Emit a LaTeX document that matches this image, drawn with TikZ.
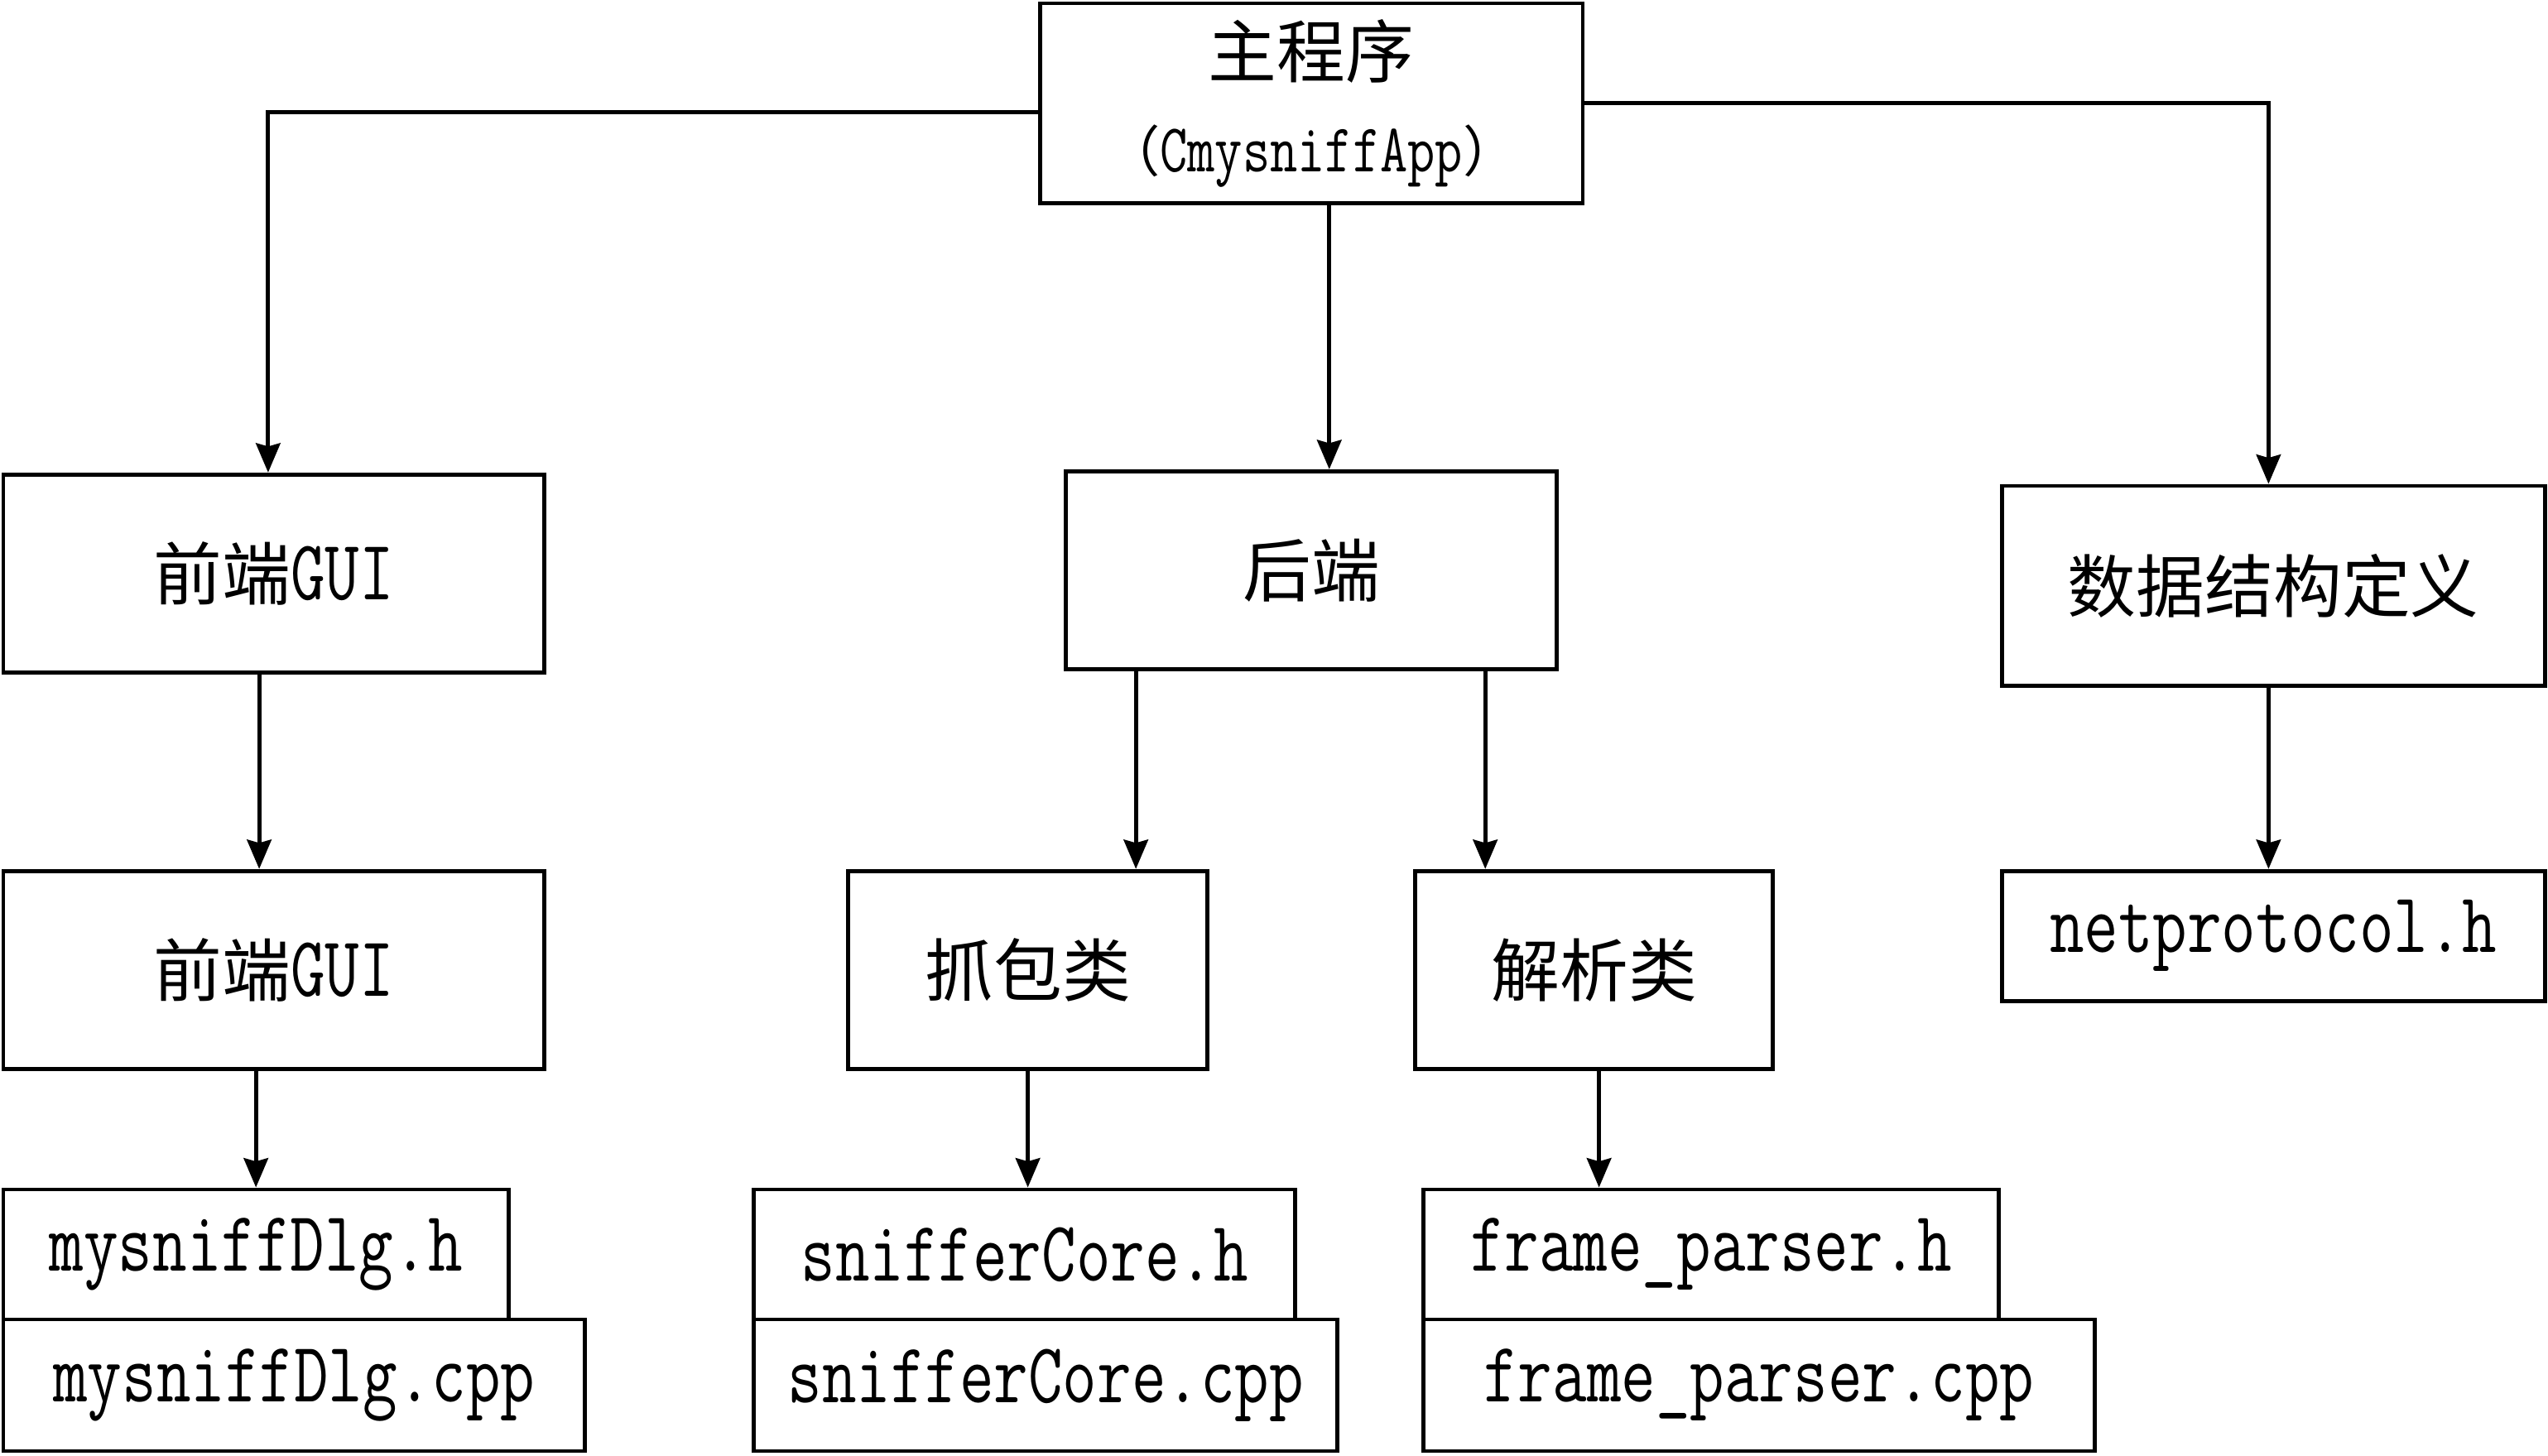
\documentclass[tikz,border=0pt]{standalone}
\usepackage{fontspec}
\setmainfont[FakeStretch=0.78]{Latin Modern Mono}
\newfontfamily\cjk[Scale=0.8]{Noto Sans CJK SC}
\usetikzlibrary{arrows.meta}

\tikzset{
  box/.style={draw, inner sep=0pt, font=\fontsize{30}{31}\selectfont}
}

\begin{document}
\begin{tikzpicture}[>={Stealth[length=0.36cm, width=0.3cm, inset=0.04cm]}, line width=1.4pt]
\useasboundingbox (0,0) rectangle (31.36,-17.92);

% top
\node[box, minimum width=6.68cm, minimum height=2.46cm, align=center] (main) at (16.14,-1.27) {{\cjk 主程序}\\[2pt]{\fontsize{24}{26}\selectfont{\cjk （}CmysniffApp{\cjk ）}}};

% second row
\node[box, minimum width=6.66cm, minimum height=2.44cm] (front gui) at (3.37,-7.06) {{\cjk 前端}GUI};
\node[box, minimum width=6.04cm, minimum height=2.44cm] (backend) at (16.14,-7.02) {{\cjk 后端}};
\node[box, minimum width=6.68cm, minimum height=2.46cm] (data def) at (27.98,-7.21) {{\cjk 数据结构定义}};

% third row
\node[box, minimum width=6.66cm, minimum height=2.44cm] (front gui 2) at (3.37,-11.94) {{\cjk 前端}GUI};
\node[box, minimum width=4.42cm, minimum height=2.44cm] (capture) at (12.65,-11.94) {{\cjk 抓包类}};
\node[box, minimum width=4.40cm, minimum height=2.44cm] (parse) at (19.62,-11.94) {{\cjk 解析类}};
\node[box, minimum width=6.68cm, minimum height=1.60cm] (netprotocol) at (27.98,-11.52) {netprotocol.h};

% files
\node[box, minimum width=6.22cm, minimum height=1.60cm] (dlg h) at (3.15,-15.44) {mysniffDlg.h};
\node[box, minimum width=7.16cm, minimum height=1.62cm] (dlg cpp) at (3.62,-17.05) {mysniffDlg.cpp};
\node[box, minimum width=6.66cm, minimum height=1.60cm] (core h) at (12.61,-15.44) {snifferCore.h};
\node[box, minimum width=7.18cm, minimum height=1.62cm] (core cpp) at (12.87,-17.05) {snifferCore.cpp};
\node[box, minimum width=7.08cm, minimum height=1.60cm] (parser h) at (21.06,-15.44) {frame\_parser.h};
\node[box, minimum width=8.26cm, minimum height=1.62cm] (parser cpp) at (21.65,-17.05) {frame\_parser.cpp};

\draw[->] ([yshift=-0.11cm]main.west) -| ([xshift=-0.07cm]front gui.north);
\draw[->] ([xshift=0.22cm]main.south) -- ([xshift=0.22cm]backend.north);
\draw[->] (main.east) -| ([xshift=-0.06cm]data def.north);
\draw[->] ([xshift=-0.18cm]front gui.south) -- ([xshift=-0.18cm]front gui 2.north);
\draw[->] ([xshift=1.33cm]capture.north |- backend.south) -- ([xshift=1.33cm]capture.north);
\draw[->] ([xshift=-1.34cm]parse.north |- backend.south) -- ([xshift=-1.34cm]parse.north);
\draw[->] ([xshift=-0.06cm]data def.south) -- ([xshift=-0.06cm]netprotocol.north);
\draw[->] (dlg h.north |- front gui 2.south) -- (dlg h.north);
\draw[->] (capture.south) -- (capture.south |- core h.north);
\draw[->] ([xshift=0.06cm]parse.south) -- ([xshift=0.06cm]parse.south |- parser h.north);
\end{tikzpicture}
\end{document}
